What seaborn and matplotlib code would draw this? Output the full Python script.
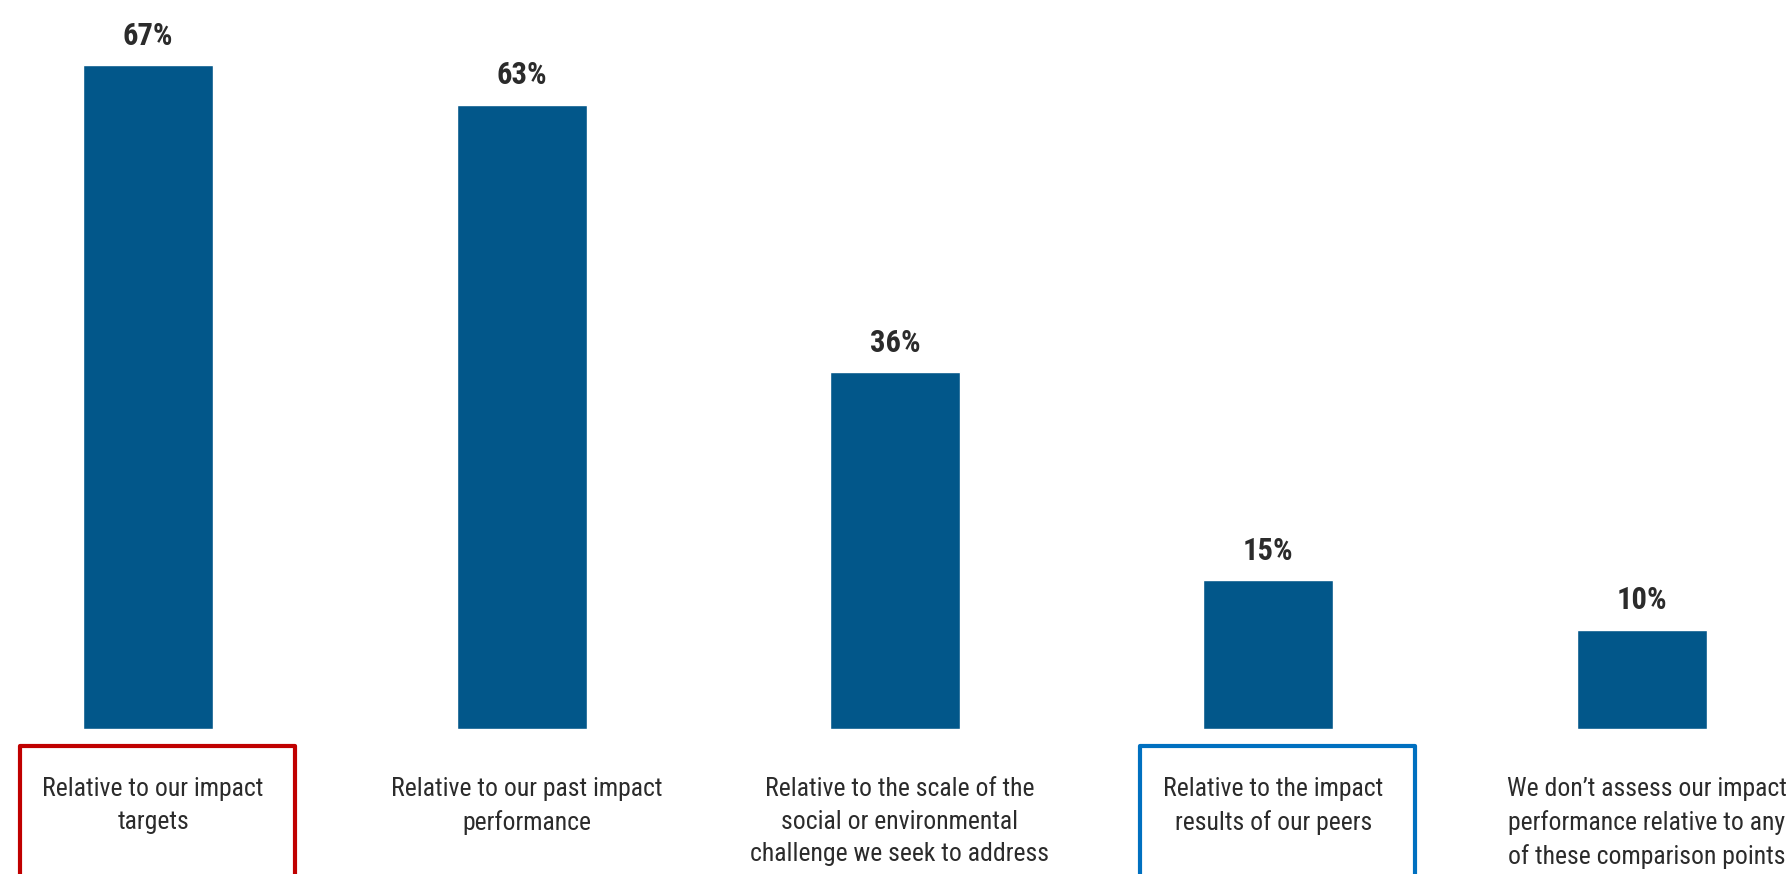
import matplotlib
matplotlib.use("Agg")
import matplotlib.pyplot as plt
from matplotlib import font_manager
from matplotlib.patches import Rectangle
import seaborn as sns
import pandas as pd

# Survey responses: how impact performance is assessed
categories = [
    "Relative to our impact targets",
    "Relative to our past impact performance",
    "Relative to the scale of the social or environmental challenge we seek to address",
    "Relative to the impact results of our peers",
    "We don\u2019t assess our impact performance relative to any of these comparison points",
]
shares = [67, 63, 36, 15, 10]
wrapped_labels = [
    "Relative to our impact\ntargets",
    "Relative to our past impact\nperformance",
    "Relative to the scale of the\nsocial or environmental\nchallenge we seek to address",
    "Relative to the impact\nresults of our peers",
    "We don\u2019t assess our impact\nperformance relative to any\nof these comparison points",
]
highlight = {0: "#C00000", 3: "#0070C0"}

BAR_COLOR = "#02578A"
TEXT_COLOR = "#2B2B2B"

# pick a narrow sans face if one is installed
fonts = font_manager.fontManager.ttflist
names = {f.name for f in fonts}
narrow = [n for n in ("Roboto Condensed", "Liberation Sans Narrow", "Open Sans Condensed",
                      "DejaVu Sans Condensed", "Noto Sans Condensed") if n in names]
narrow += sorted(n for n in names if ("Condensed" in n or "Narrow" in n) and n not in narrow)
if narrow:
    family, stretch = narrow[0], "normal"
else:
    has_cond = any(f.name == "DejaVu Sans" and f.stretch in ("condensed", "semi-condensed")
                   for f in fonts)
    family, stretch = "DejaVu Sans", ("condensed" if has_cond else "normal")

sns.set_theme(style="white")
plt.rcParams["font.family"] = [family, "DejaVu Sans"]
plt.rcParams["font.stretch"] = stretch

df = pd.DataFrame({"category": categories, "share": shares})

fig = plt.figure(figsize=(17.91, 8.74), dpi=100)
ax = fig.add_axes([0, 0.1659, 1, 0.8341])

sns.barplot(data=df, x="category", y="share", color=BAR_COLOR, width=0.348,
            saturation=1, ax=ax)

ax.set_xlim(-0.397, 4.4)
ax.set_ylim(0, 73.6)
ax.set_xticks([])
ax.set_yticks([])
ax.set_xlabel("")
ax.set_ylabel("")
for s in ax.spines.values():
    s.set_visible(False)

narrow_font = stretch != "normal" or family != "DejaVu Sans"
lab_size = 18.5 if narrow_font else 16
val_size = 22 if narrow_font else 19

# value labels above bars
for i, v in enumerate(shares):
    ax.annotate(f"{v}%", xy=(i, v), xytext=(0, 15), textcoords="offset points",
                ha="center", va="baseline", fontsize=val_size, fontweight="semibold",
                color=TEXT_COLOR)

# category labels under the bars, some framed
trans = ax.get_xaxis_transform()
for i, lab in enumerate(wrapped_labels):
    ax.text(i + 0.013, -0.066, lab, transform=trans, ha="center", va="top",
            fontsize=lab_size, color=TEXT_COLOR, linespacing=1.45, clip_on=False)
    if i in highlight:
        rect = Rectangle((i - 0.343, -0.4), 0.735, 0.4 - 0.0233, transform=trans,
                         fill=False, edgecolor=highlight[i], linewidth=3,
                         joinstyle="round", clip_on=False)
        ax.add_patch(rect)

fig.savefig("out.png", dpi=100)
